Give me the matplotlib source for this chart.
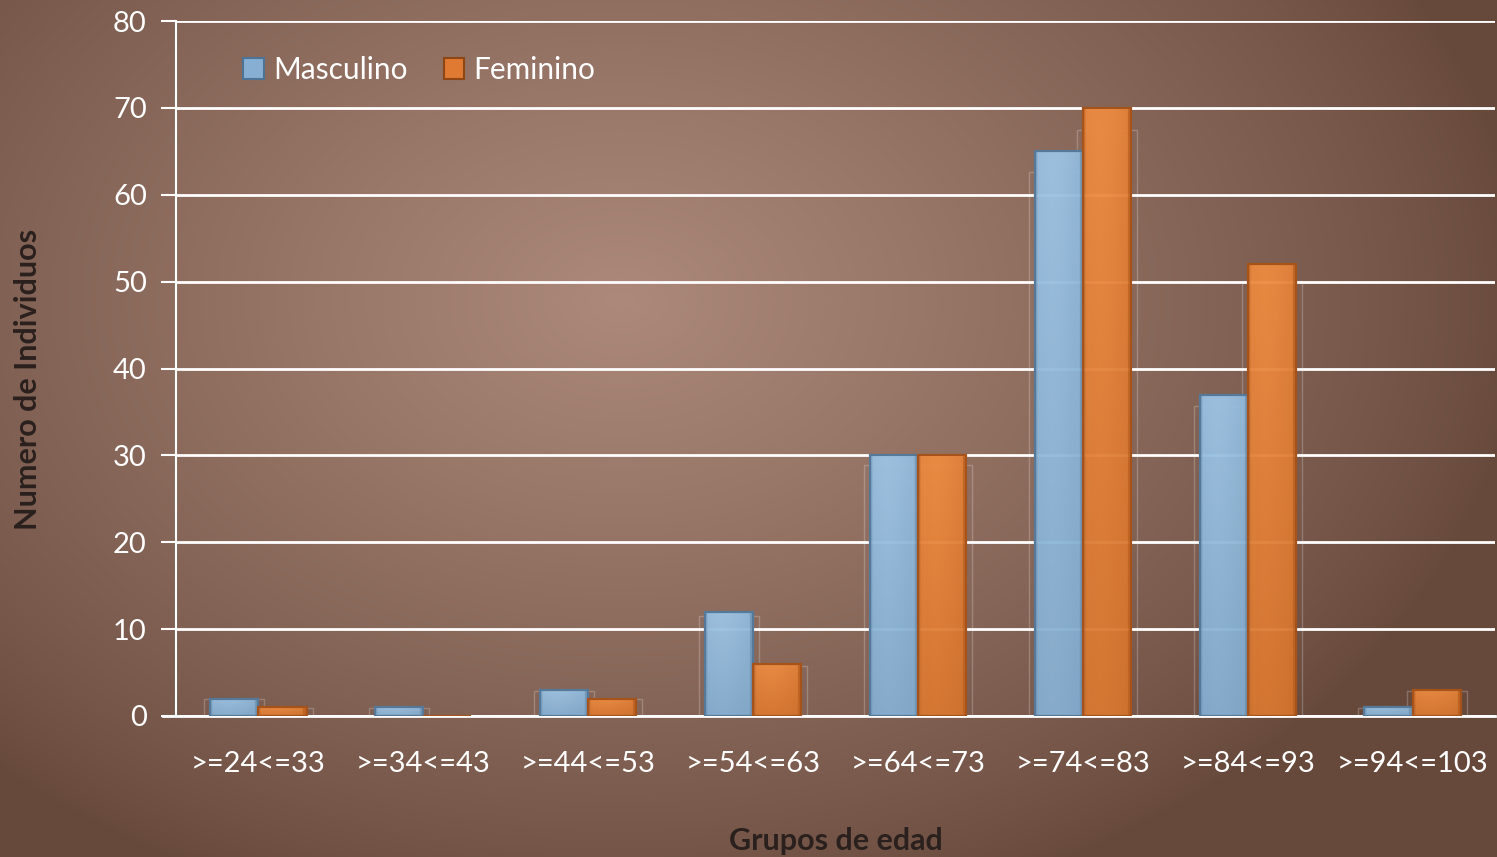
import numpy as np
import matplotlib
matplotlib.use("Agg")
import matplotlib.pyplot as plt
from matplotlib.patches import Rectangle
from matplotlib.colors import LinearSegmentedColormap

categories = [">=24<=33", ">=34<=43", ">=44<=53", ">=54<=63",
              ">=64<=73", ">=74<=83", ">=84<=93", ">=94<=103"]
masculino = [2, 1, 3, 12, 30, 65, 37, 1]
femenino = [1, 0, 2, 6, 30, 70, 52, 3]
y_ticks = [0, 10, 20, 30, 40, 50, 60, 70, 80]

plt.rcParams['font.family'] = ['Lato', 'DejaVu Sans']

W, H = 1497, 857
fig = plt.figure(figsize=(W / 100, H / 100), dpi=100)

# Background: warm brown with a lighter glow in the upper middle
bg_ax = fig.add_axes([0, 0, 1, 1], zorder=-10)
bg_ax.set_axis_off()
yy, xx = np.mgrid[0:H, 0:W]
cx, cy = 620, 300
d = np.sqrt(((xx - cx) / 900.0) ** 2 + ((yy - cy) / 640.0) ** 2)
f = np.clip(1 - d, 0, 1) ** 0.85
dark = np.array([104, 74, 61]) / 255.0
light = np.array([172, 137, 122]) / 255.0
img = dark[None, None, :] + (light - dark)[None, None, :] * f[..., None]
bg_ax.imshow(img, aspect='auto', extent=[0, 1, 0, 1], origin='upper')
bg_ax.set_xlim(0, 1)
bg_ax.set_ylim(0, 1)

ax_w = (1495 - 176) / W
ax_h = (716 - 21) / H
ax = fig.add_axes([176 / W, 1 - 716 / H, ax_w, ax_h])
ax.patch.set_alpha(0)

x = np.arange(len(categories))
bw = 0.292

ax.set_ylim(0, 80)
ax.set_yticks(y_ticks)
ax.yaxis.grid(True, color='white', linewidth=2, zorder=0)
ax.set_axisbelow(True)

for s in ['top', 'right', 'bottom']:
    ax.spines[s].set_visible(False)
ax.spines['left'].set_color('white')
ax.spines['left'].set_linewidth(1.5)
ax.tick_params(axis='y', colors='white', labelcolor='white', labelsize=21,
               length=11, width=1.5, pad=10)
ax.tick_params(axis='x', length=0, labelcolor='white', labelsize=21, pad=25)
ax.set_xticks(x)
ax.set_xticklabels(categories)
# zero line extends out to the tick
ax.axhline(0, color='white', linewidth=2, zorder=1, xmin=-0.01, clip_on=False)

blue_cmap = LinearSegmentedColormap.from_list('b', ['#6f97bb', '#9cc4e4'])
orange_cmap = LinearSegmentedColormap.from_list('o', ['#c0621f', '#ee8c42'])


def gradient_bars(xpos, vals, cmap, edge):
    bars = ax.bar(xpos, vals, bw, color='none', edgecolor=edge,
                  linewidth=1.6, zorder=4)
    for b, v in zip(bars, vals):
        if v <= 0:
            continue
        x0, w = b.get_x(), b.get_width()
        # faint reflection frame behind each bar
        ax.add_patch(Rectangle((x0 - 0.036, -0.2), w + 0.072, v * 0.963 + 0.2,
                               fill=False, edgecolor=(1, 1, 1, 0.22),
                               linewidth=1.0, zorder=2))
        # shading: lighter towards the top and the left-middle
        gx = np.linspace(0, 1, 60)
        gy = np.linspace(0, 1, 60)
        GX, GY = np.meshgrid(gx, gy)
        horiz = 1 - 0.55 * np.abs(GX - 0.35) ** 1.5 - 0.6 * (GX > 0.93) - 0.5 * (GX < 0.05)
        vert = 0.55 + 0.45 * GY
        shade = np.clip(horiz * vert, 0, 1)
        im = ax.imshow(shade, cmap=cmap, vmin=0, vmax=1, origin='lower',
                       extent=[x0, x0 + w, 0, v], aspect='auto', zorder=3,
                       alpha=0.95, interpolation='bilinear')
        im.set_clip_path(b)
    return bars


gradient_bars(x - bw / 2, masculino, blue_cmap, '#56799a')
gradient_bars(x + bw / 2, femenino, orange_cmap, '#a5521b')
ax.set_xlim(-0.5, len(categories) - 0.5)
ax.set_ylim(0, 80)

ax.set_ylabel('Numero de Individuos', fontsize=22, fontweight='bold',
              color='#2a201d')
ax.yaxis.set_label_coords((42 - 176) / (1495 - 176), 0.5 - 11 / 695)
ax.set_xlabel('Grupos de edad', fontsize=22, fontweight='bold',
              color='#2a201d')
ax.xaxis.set_label_coords(0.5, -(827 - 716) / (716 - 21))

# Legend
handles = [Rectangle((0, 0), 1, 1, facecolor='#86afd3', edgecolor='#4f7394', linewidth=1.5),
           Rectangle((0, 0), 1, 1, facecolor='#e07a33', edgecolor='#8e4615', linewidth=1.5)]
leg = ax.legend(handles, ['Masculino', 'Feminino'], ncol=2, frameon=False,
                loc='upper left', bbox_to_anchor=(0.042, 0.967),
                fontsize=21.5, handlelength=0.7, handleheight=0.7,
                handletextpad=0.3, columnspacing=1.2, labelcolor='white',
                borderaxespad=0.0)

fig.savefig('out.png', dpi=100)
